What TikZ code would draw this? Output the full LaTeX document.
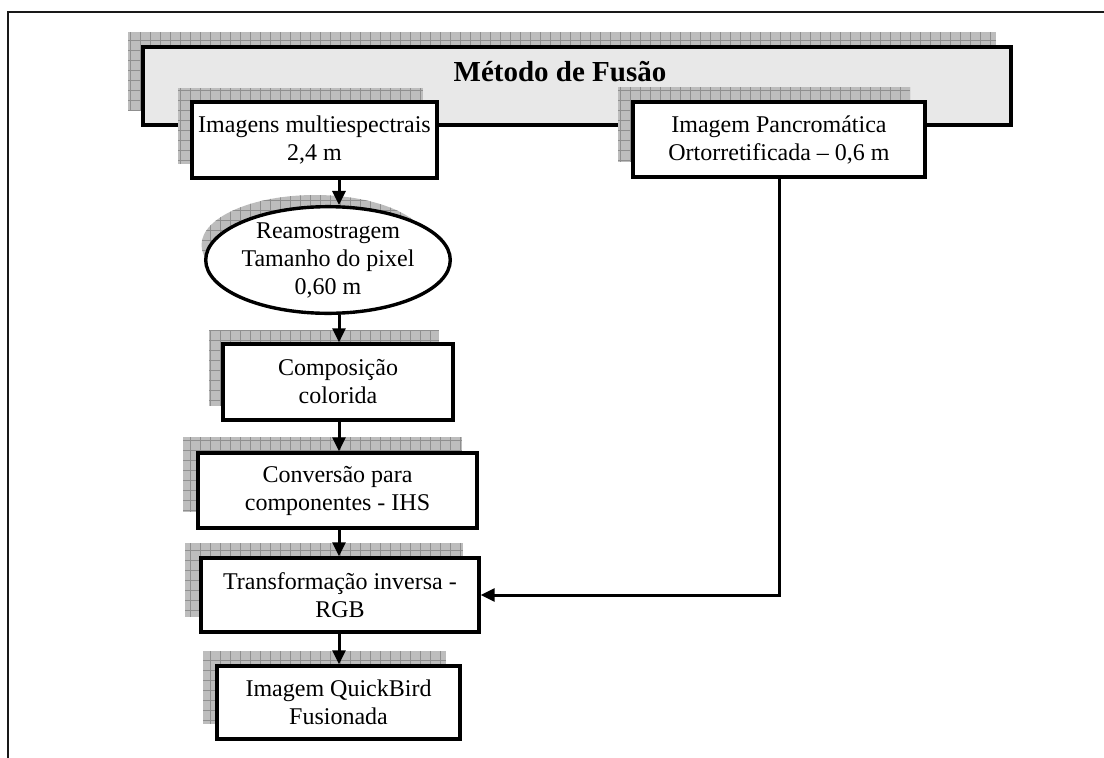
\documentclass[tikz,border=0pt]{standalone}
\usepackage{fontspec}
\setmainfont{Liberation Serif}
\usetikzlibrary{arrows.meta,shapes.geometric,calc}

\tikzset{
  % hatched grey offset shadow behind every box
  shadefill/.style={fill=black!26,
    path picture={\draw[black!44,line width=0.6pt,step=10pt]
      (path picture bounding box.south west) grid (path picture bounding box.north east);}},
  stepbox/.style={draw=black,line width=3.4pt,fill=white,rectangle,align=center,
    inner sep=0pt,font=\fontsize{24}{28}\selectfont},
  ovalbox/.style={stepbox,ellipse},
  titlebox/.style={draw=black,line width=3.6pt,fill=black!9,rectangle,inner sep=0pt},
  arr/.style={line width=3pt,-{Triangle[length=14pt,width=13pt]}},
  frame/.style={line width=2pt,draw=black!90}
}

\begin{document}
\begin{tikzpicture}[x=1pt,y=-1pt]
\useasboundingbox (0,0) rectangle (1104,758);

% page frame (top and left edges)
\draw[frame] (8,758) -- (8,12) -- (1104,12);

% title panel
\path[shadefill] (128,32) rectangle (996,110);
\node[titlebox,minimum width=868,minimum height=78] (fusao) at (577,86) {};
\node[font=\bfseries\fontsize{29}{32}\selectfont,inner sep=0pt,anchor=base] (fusaolabel) at (560,81) {Método de Fusão};

% source images
\path[shadefill] (178,88) rectangle ++(245,76);
\node[stepbox,minimum width=245,minimum height=76] (multi) at (314.5,140)
  {Imagens multiespectrais\\2,4 m};
\path[shadefill] (618,87) rectangle ++(292,75);
\node[stepbox,minimum width=292,minimum height=75] (panc) at (779,139.5)
  {Imagem Pancromática\\Ortorretificada – 0,6 m};

% resampling
\path[shadefill] (315,245) ellipse [x radius=113.5,y radius=50];
\node[ovalbox,minimum width=227,minimum height=100] (reamo) at (328,260)
  {Reamostragem\\Tamanho do pixel\\0,60 m};

% processing chain
\path[shadefill] (209,330) rectangle ++(230,76);
\node[stepbox,minimum width=230,minimum height=76] (comp) at (338,382)
  {Composição\\colorida};
\path[shadefill] (183,437) rectangle ++(279,75);
\node[stepbox,minimum width=279,minimum height=75] (conv) at (337.5,490.5)
  {Conversão para\\componentes - IHS};
\path[shadefill] (185,543) rectangle ++(278,74);
\node[stepbox,minimum width=278,minimum height=74] (trans) at (340,595)
  {Transformação inversa -\\RGB};
\path[shadefill] (203,651) rectangle ++(243,73);
\node[stepbox,minimum width=243,minimum height=73] (quick) at (338.5,702.5)
  {Imagem QuickBird\\Fusionada};

% connectors
\coordinate (col) at (339,0);
\draw[arr] (multi.south -| col) -- (reamo.north -| col);
\draw[arr] (reamo.south -| col) -- (comp.north -| col);
\draw[arr] (comp.south -| col) -- (conv.north -| col);
\draw[arr] (conv.south -| col) -- (trans.north -| col);
\draw[arr] (trans.south -| col) -- (quick.north -| col);
\draw[arr] (panc.south) |- (trans.east);
\end{tikzpicture}
\end{document}
